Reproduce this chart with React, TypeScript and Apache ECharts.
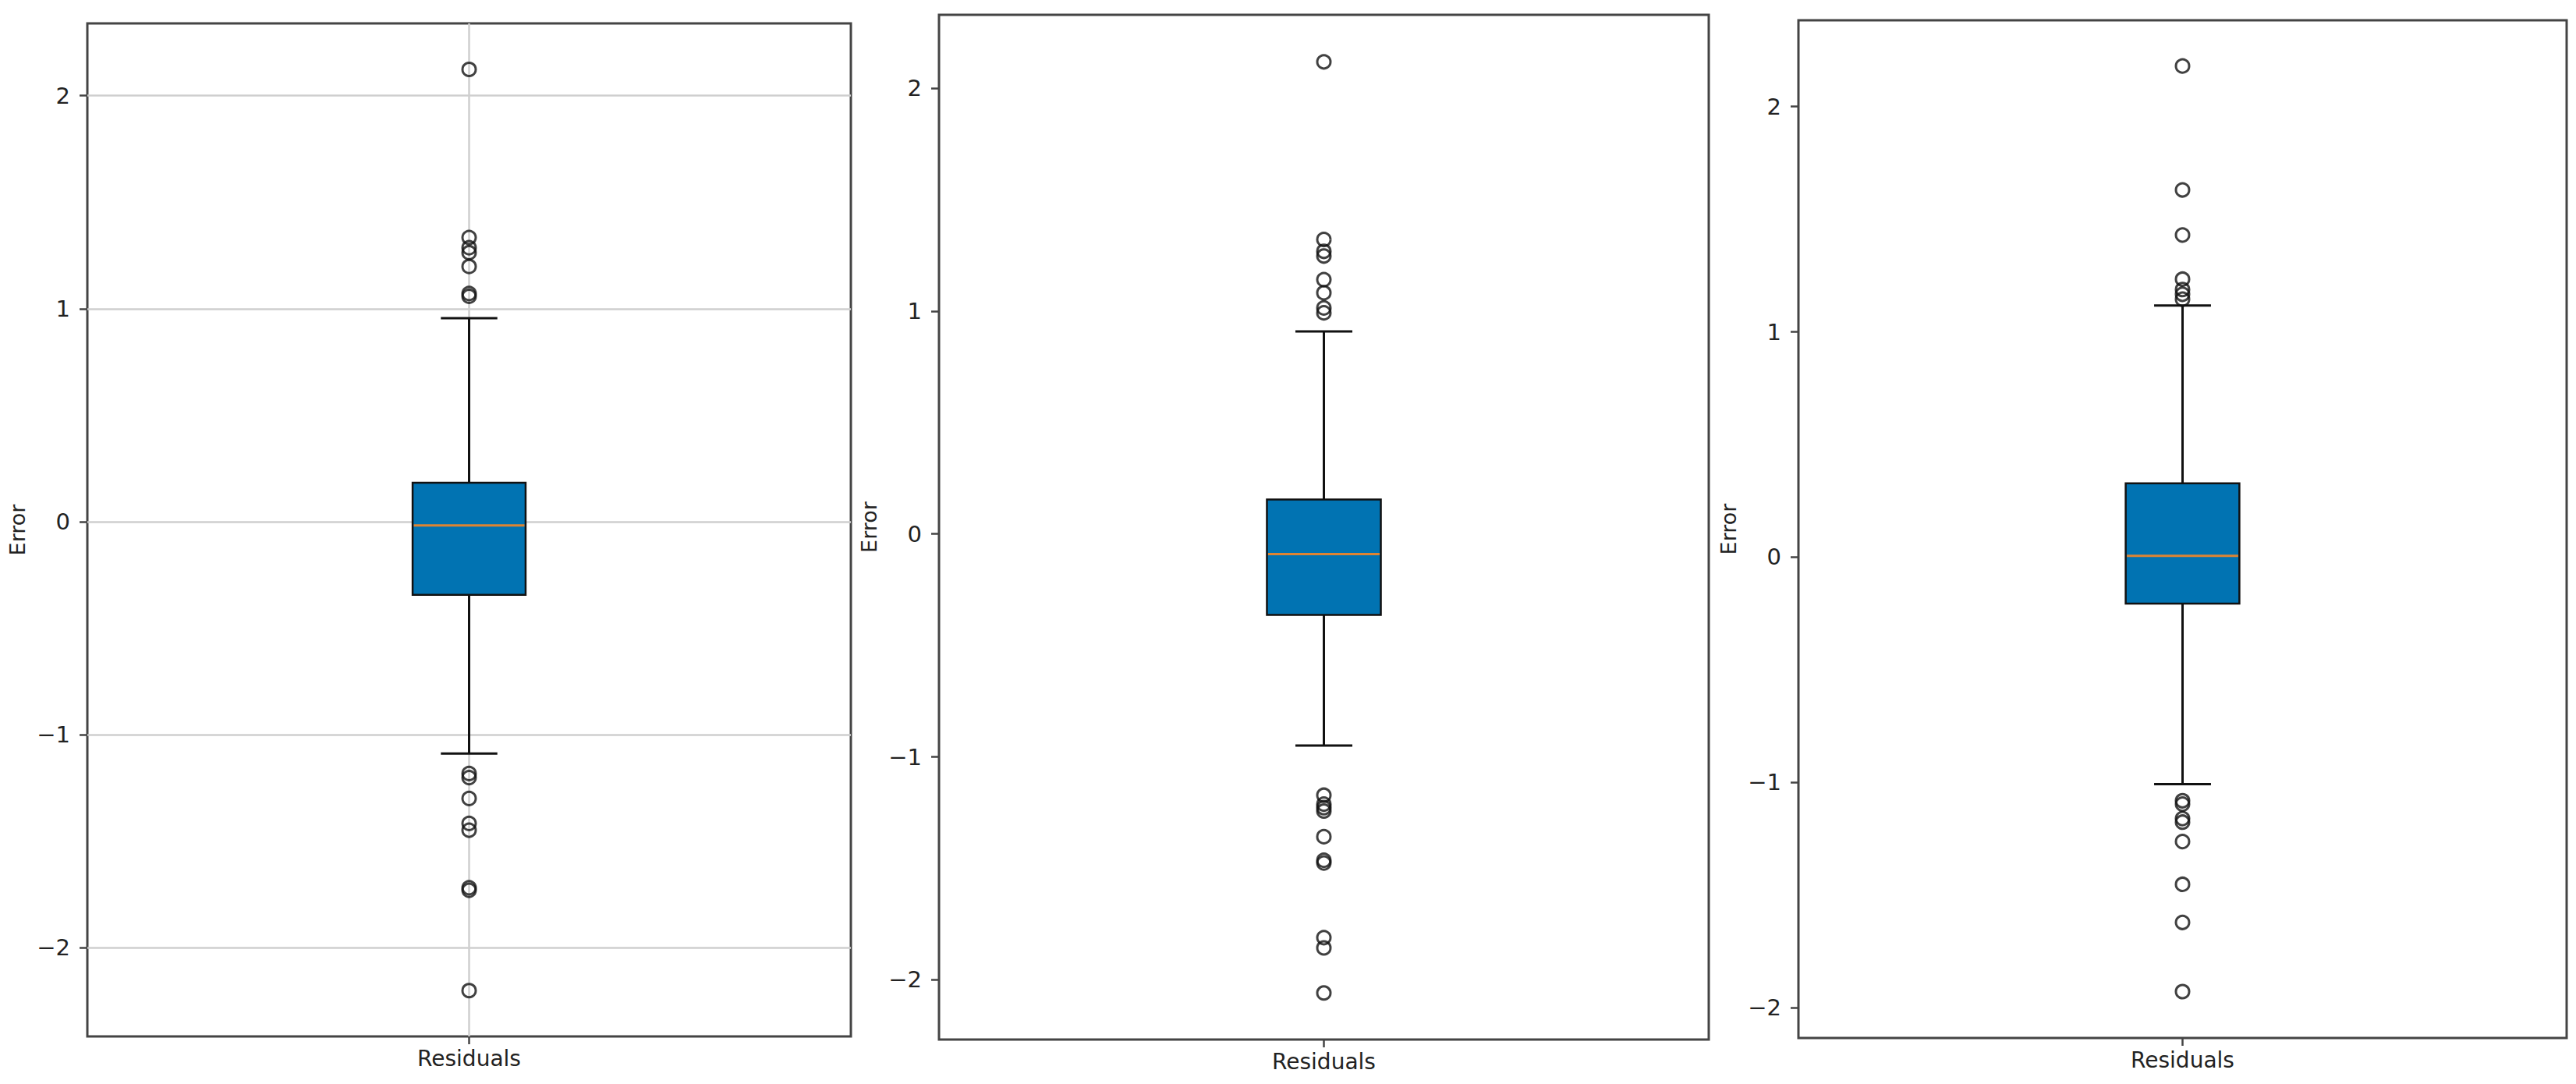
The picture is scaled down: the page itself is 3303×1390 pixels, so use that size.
import React, { useEffect, useRef } from "react";
import * as echarts from "echarts";

// ---- data ----
const categories = ["Residuals"];
const yTickValues = [-2, -1, 0, 1, 2];

// box stats: [lowerWhisker, q1, median, q3, upperWhisker]
const panel1Box = [-1.088, -0.343, -0.017, 0.183, 0.955];
const panel1Outliers = [2.123, 1.334, 1.286, 1.263, 1.198, 1.071, 1.058, -1.182, -1.201, -1.299, -1.416, -1.448, -1.718, -1.73, -2.201];

const panel2Box = [-0.949, -0.363, -0.09, 0.155, 0.909];
const panel2Outliers = [2.118, 1.321, 1.268, 1.247, 1.141, 1.082, 1.014, 0.992, -1.172, -1.212, -1.228, -1.243, -1.358, -1.464, -1.476, -1.811, -1.857, -2.059];

const panel3Box = [-1.007, -0.206, 0.006, 0.328, 1.117];
const panel3Outliers = [2.18, 1.63, 1.43, 1.234, 1.188, 1.167, 1.145, -1.081, -1.096, -1.16, -1.176, -1.262, -1.452, -1.621, -1.928];

const yRanges = [
  [-2.416, 2.339],
  [-2.268, 2.329],
  [-2.134, 2.383],
];

const FONT = "DejaVu Sans";
const TEXT = "#222";
const SPINE = "#444";
const BOX_FILL = "#0173B2";
const MEDIAN = "#dd8433";

const minusFmt = (v: number) => (v < 0 ? "\u2212" + Math.abs(v) : String(v));

export default function App() {
  const ref = useRef<HTMLDivElement>(null);

  useEffect(() => {
    if (!ref.current) return;
    const chart = echarts.init(ref.current, null, { renderer: "svg" });

    const grids = [
      { left: 112, top: 30, width: 979, height: 1299 },
      { left: 1204, top: 19, width: 987, height: 1314 },
      { left: 2306, top: 26, width: 985, height: 1305 },
    ];
    const boxes = [panel1Box, panel2Box, panel3Box];
    const outliers = [panel1Outliers, panel2Outliers, panel3Outliers];

    const xAxes = grids.map((_, i) => ({
      type: "value",
      gridIndex: i,
      min: 0.5,
      max: 1.5,
      axisLine: { show: false, onZero: false },
      splitLine: { show: false },
      axisTick: {
        show: true,
        customValues: [1],
        length: 10,
        lineStyle: { color: SPINE, width: 2.5 },
      },
      axisLabel: {
        show: true,
        customValues: [1],
        formatter: () => categories[0],
        margin: 14,
        fontFamily: FONT,
        fontSize: 28,
        color: TEXT,
      },
    }));

    const yAxes = grids.map((_, i) => ({
      type: "value",
      gridIndex: i,
      min: yRanges[i][0],
      max: yRanges[i][1],
      name: "Error",
      nameLocation: "middle",
      nameGap: 76,
      nameRotate: 90,
      nameTextStyle: { fontFamily: FONT, fontSize: 27, color: TEXT },
      axisLine: { show: false, onZero: false },
      splitLine: { show: false },
      axisTick: {
        show: true,
        customValues: yTickValues,
        length: 10,
        lineStyle: { color: SPINE, width: 2.5 },
      },
      axisLabel: {
        show: true,
        customValues: yTickValues,
        formatter: (v: number) => minusFmt(v),
        margin: 22,
        fontFamily: FONT,
        fontSize: 29,
        color: TEXT,
      },
    }));

    const series: any[] = [];

    // grid lines only on the first panel (behind the boxes)
    series.push({
      type: "line",
      xAxisIndex: 0,
      yAxisIndex: 0,
      data: [],
      z: 1,
      silent: true,
      markLine: {
        z: 1,
        silent: true,
        symbol: "none",
        label: { show: false },
        lineStyle: { color: "#cfcfcf", width: 2.5, type: "solid" },
        data: [...yTickValues.map((v) => ({ yAxis: v })), { xAxis: 1 }],
      },
    });

    boxes.forEach((b, i) => {
      series.push({
        type: "custom",
        xAxisIndex: i,
        yAxisIndex: i,
        z: 10,
        encode: { x: 0, y: [1, 2, 3, 4, 5] },
        data: [[1, ...b]],
        renderItem: (_params: any, api: any) => {
          const x = api.value(0);
          const lo = api.value(1);
          const q1 = api.value(2);
          const med = api.value(3);
          const q3 = api.value(4);
          const hi = api.value(5);
          const hw = 0.074;
          const cw = 0.037;
          const tl = api.coord([x - hw, q3]);
          const br = api.coord([x + hw, q1]);
          const pHi = api.coord([x, hi]);
          const pLo = api.coord([x, lo]);
          const pQ3 = api.coord([x, q3]);
          const pQ1 = api.coord([x, q1]);
          const cL = api.coord([x - cw, hi])[0];
          const cR = api.coord([x + cw, hi])[0];
          const mL = api.coord([x - hw, med]);
          const mR = api.coord([x + hw, med]);
          const ls = { stroke: "#111", lineWidth: 3 };
          return {
            type: "group",
            children: [
              { type: "line", shape: { x1: pQ3[0], y1: pQ3[1], x2: pHi[0], y2: pHi[1] }, style: ls },
              { type: "line", shape: { x1: pQ1[0], y1: pQ1[1], x2: pLo[0], y2: pLo[1] }, style: ls },
              { type: "line", shape: { x1: cL, y1: pHi[1], x2: cR, y2: pHi[1] }, style: ls },
              { type: "line", shape: { x1: cL, y1: pLo[1], x2: cR, y2: pLo[1] }, style: ls },
              {
                type: "rect",
                shape: { x: tl[0], y: tl[1], width: br[0] - tl[0], height: br[1] - tl[1] },
                style: { fill: BOX_FILL, stroke: "#111", lineWidth: 2.5 },
              },
              {
                type: "line",
                shape: { x1: mL[0] + 1.5, y1: mL[1], x2: mR[0] - 1.5, y2: mR[1] },
                style: { stroke: MEDIAN, lineWidth: 3 },
              },
            ],
          };
        },
      });
      series.push({
        type: "scatter",
        xAxisIndex: i,
        yAxisIndex: i,
        z: 11,
        symbol: "circle",
        symbolSize: 17,
        itemStyle: { color: "rgba(0,0,0,0)", borderColor: "#111", borderWidth: 3 },
        data: outliers[i].map((v) => [1, v]),
      });
    });

    chart.setOption({
      animation: false,
      backgroundColor: "#ffffff",
      grid: grids.map((g) => ({
        ...g,
        show: true,
        borderColor: SPINE,
        borderWidth: 3,
        backgroundColor: "transparent",
        containLabel: false,
      })),
      xAxis: xAxes,
      yAxis: yAxes,
      series,
    });

    return () => chart.dispose();
  }, []);

  return (
    <div
      ref={ref}
      style={{ position: "absolute", left: 0, top: 0, width: 3303, height: 1390, background: "#fff" }}
    />
  );
}
